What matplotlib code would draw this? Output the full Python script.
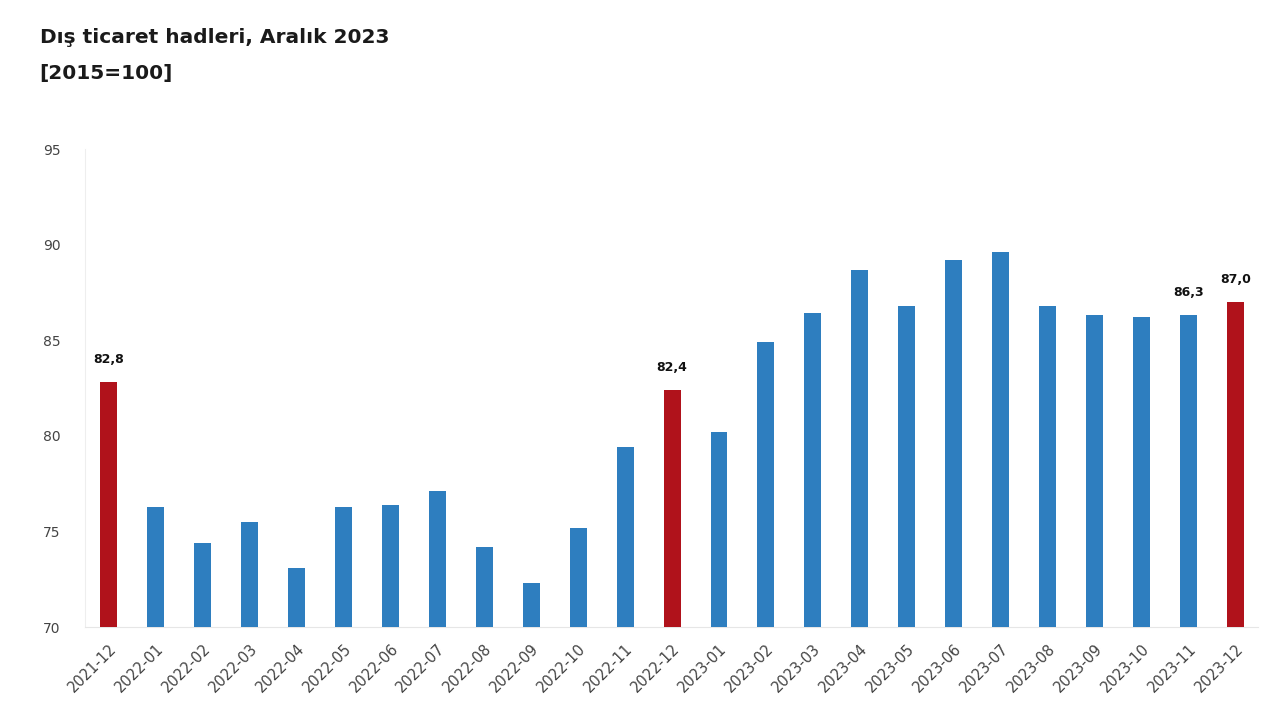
import numpy as np
import matplotlib.pyplot as plt

# Dış ticaret hadleri endeksi (2015=100)
months = ['2021-12', '2022-01', '2022-02', '2022-03', '2022-04', '2022-05', '2022-06',
          '2022-07', '2022-08', '2022-09', '2022-10', '2022-11', '2022-12', '2023-01',
          '2023-02', '2023-03', '2023-04', '2023-05', '2023-06', '2023-07', '2023-08',
          '2023-09', '2023-10', '2023-11', '2023-12']
values = [82.8, 76.3, 74.4, 75.5, 73.1, 76.3, 76.4, 77.1, 74.2, 72.3, 75.2, 79.4, 82.4,
          80.2, 84.9, 86.4, 88.7, 86.8, 89.2, 89.6, 86.8, 86.3, 86.2, 86.3, 87.0]
highlight = ['2021-12', '2022-12', '2023-12']
labelled = ['2021-12', '2022-12', '2023-11', '2023-12']

BLUE = '#2E7EBF'
RED = '#B0121B'

fig = plt.figure(figsize=(12.8, 7.2), dpi=100)
ax = fig.add_axes([0.0664, 0.129, 0.9166, 0.664])

x = np.arange(len(months))
colors = [RED if m in highlight else BLUE for m in months]
ax.bar(x, values, width=0.36, color=colors, zorder=3)

for xi, m, v in zip(x, months, values):
    if m in labelled:
        ax.text(xi, v + 0.85, f'{v:.1f}'.replace('.', ','), ha='center', va='bottom',
                fontsize=9, fontweight='bold', color='#111111')

ax.set_ylim(70, 95)
ax.set_xlim(-0.51, len(months) - 0.51)
ax.set_yticks([70, 75, 80, 85, 90, 95])
ax.set_xticks(x)
ax.set_xticklabels(months, rotation=45, ha='right', rotation_mode='anchor')
ax.tick_params(axis='both', length=0, colors='#444444', labelsize=10)
ax.tick_params(axis='x', pad=10, labelsize=10.5)
ax.tick_params(axis='y', pad=30)
for lab in ax.get_yticklabels():
    lab.set_horizontalalignment('left')

for s in ['top', 'right']:
    ax.spines[s].set_visible(False)
ax.spines['left'].set_color('#EEEEEE')
ax.spines['bottom'].set_color('#E6E6E6')

fig.text(0.031, 0.948, 'Dış ticaret hadleri, Aralık 2023', fontsize=14.5,
         fontweight='bold', color='#1a1a1a', va='center')
fig.text(0.031, 0.898, '[2015=100]', fontsize=14.5, fontweight='bold',
         color='#1a1a1a', va='center')

fig.savefig('out.png', dpi=100)
